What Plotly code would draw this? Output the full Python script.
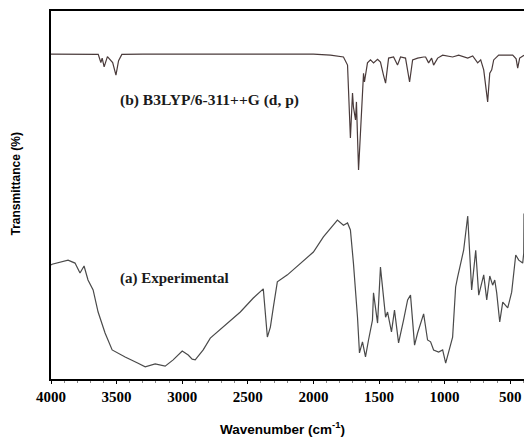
import plotly.graph_objects as go

# Computed (B3LYP) spectrum: wavenumber, transmittance (arb. %)
calc_w = [4000, 3700, 3640, 3620, 3610, 3595, 3570, 3530, 3505, 3485, 3460, 3300,
          3000, 2500, 2000, 1870, 1771, 1740, 1733, 1718, 1702, 1695, 1679, 1672,
          1656, 1634, 1618, 1611, 1588, 1565, 1542, 1511, 1489, 1466, 1450, 1427,
          1389, 1359, 1336, 1298, 1267, 1244, 1206, 1160, 1145, 1122, 1099, 1084,
          1053, 1015, 939, 893, 824, 786, 748, 725, 702, 672, 656, 641,
          626, 588, 481, 455, 443, 428, 397, 395]
calc_t = [88.3, 88.3, 88.2, 86.0, 87.2, 84.8, 87.6, 86.0, 82.6, 86.5, 88.2, 88.3,
          88.3, 88.3, 88.3, 88.0, 87.5, 85.3, 78.5, 65.5, 77.7, 73.9, 70.4, 75.3,
          56.8, 73.9, 83.1, 80.7, 85.9, 86.7, 85.9, 86.9, 86.1, 82.6, 80.4, 87.2,
          87.5, 85.3, 87.5, 87.2, 80.7, 86.7, 87.2, 87.5, 87.5, 85.9, 87.2, 85.3,
          87.2, 88.0, 87.5, 88.0, 87.2, 87.8, 85.9, 86.7, 84.0, 75.3, 83.1, 84.0,
          86.7, 88.0, 88.0, 87.0, 84.5, 87.2, 88.0, 88.0]

# Experimental spectrum
exp_w = [4000, 3992, 3870, 3817, 3779, 3748, 3718, 3679, 3641, 3588, 3534, 3496,
         3435, 3336, 3282, 3206, 3130, 3069, 3000, 2954, 2924, 2901, 2840, 2786,
         2687, 2557, 2458, 2382, 2351, 2328, 2305, 2275, 2198, 2099, 2000, 1924,
         1817, 1771, 1740, 1718, 1695, 1664, 1649, 1626, 1603, 1580, 1550, 1542,
         1511, 1489, 1450, 1435, 1405, 1382, 1351, 1313, 1282, 1260, 1229, 1206,
         1160, 1130, 1107, 1084, 1046, 1015, 992, 939, 916, 901, 878, 855,
         824, 817, 794, 763, 740, 702, 679, 656, 634, 618, 603, 580,
         557, 519, 489, 458, 435, 405, 397, 395]
exp_t = [31.0, 31.2, 32.3, 31.5, 28.8, 30.7, 26.9, 24.2, 18.2, 12.5, 7.9, 7.1,
         6.0, 4.3, 3.3, 4.1, 3.5, 5.2, 7.6, 6.5, 5.4, 5.2, 7.9, 11.1,
         14.1, 18.2, 22.0, 24.5, 11.4, 14.1, 19.6, 26.4, 28.3, 31.5, 34.5, 38.6,
         43.2, 41.8, 42.4, 40.5, 31.5, 16.8, 7.1, 10.1, 6.0, 10.6, 16.0, 23.4,
         15.2, 30.4, 16.8, 18.2, 12.8, 18.7, 9.8, 16.0, 21.5, 22.8, 9.2, 12.5,
         17.7, 10.6, 10.1, 7.9, 7.3, 7.9, 4.3, 11.4, 25.0, 27.7, 31.0, 35.0,
         44.3, 39.7, 24.2, 35.0, 22.8, 28.3, 21.5, 28.0, 25.5, 26.9, 23.4, 15.5,
         20.9, 19.3, 23.6, 33.7, 32.3, 31.5, 34.2, 45.0]

tick_vals = [4000, 3500, 3000, 2500, 2000, 1500, 1000, 500]

fig = go.Figure()
fig.add_trace(go.Scatter(x=calc_w, y=calc_t, mode="lines",
                         line=dict(color="#4a3b3b", width=1.2), showlegend=False))
fig.add_trace(go.Scatter(x=exp_w, y=exp_t, mode="lines",
                         line=dict(color="#4a4a4a", width=1.2), showlegend=False))

fig.update_layout(
    width=524, height=439,
    margin=dict(l=51, r=0, t=11, b=60),
    paper_bgcolor="white", plot_bgcolor="white",
    xaxis=dict(range=[4000, 395], tickvals=tick_vals,
               ticktext=[f"<b>{v}</b>" for v in tick_vals],
               tickfont=dict(family="Liberation Serif", size=15, color="black"),
               showline=True, linecolor="black", linewidth=2, mirror=True,
               ticks="outside", ticklen=3, tickcolor="black",
               minor=dict(dtick=100, tick0=0, ticks="outside", ticklen=2, tickcolor="#888"),
               showgrid=False, zeroline=False),
    yaxis=dict(range=[0, 100], showticklabels=False, showline=True, linecolor="black",
               linewidth=2, showgrid=False, zeroline=False, ticks=""),
    annotations=[
        dict(text="<b>Wavenumber (cm<sup>-1</sup>)</b>", xref="paper", yref="paper",
             x=0.49, y=-0.132, xanchor="center", yanchor="middle", showarrow=False,
             font=dict(family="Liberation Sans", size=13.5, color="black")),
        dict(text="<b>Transmittance (%)</b>", xref="paper", yref="paper",
             x=-0.075, y=0.53, xanchor="center", yanchor="middle", showarrow=False,
             textangle=-90, font=dict(family="Liberation Sans", size=12, color="black")),
        dict(text="<b>(b) B3LYP/6-311++G (d, p)</b>", xref="x", yref="paper",
             x=3490, y=(379 - 100) / 368, xanchor="left", yanchor="middle", showarrow=False,
             font=dict(family="Liberation Serif", size=15.5, color="#1a1a1a")),
        dict(text="<b>(a) Experimental</b>", xref="x", yref="paper",
             x=3490, y=(379 - 278) / 368, xanchor="left", yanchor="middle", showarrow=False,
             font=dict(family="Liberation Serif", size=15, color="#1a1a1a")),
    ],
)

fig.write_html("out.html", config={"displayModeBar": False},
               post_script="document.body.style.margin='0';document.body.style.padding='0';")
